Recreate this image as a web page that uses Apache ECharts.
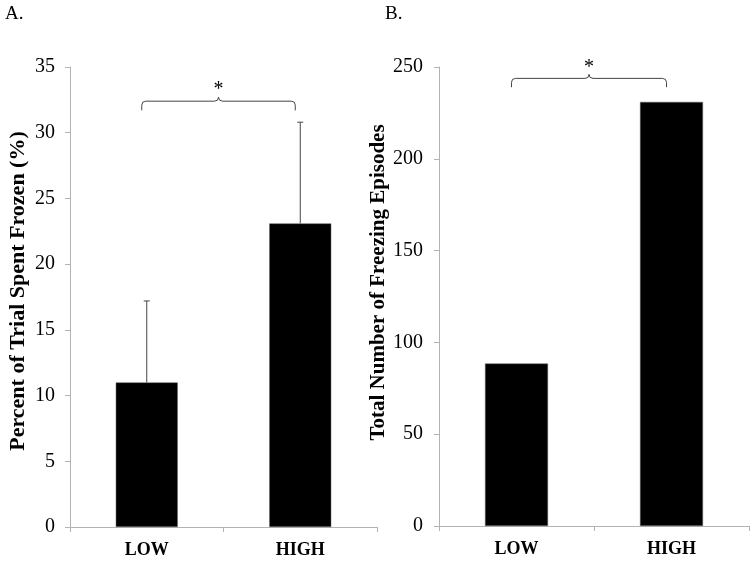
<!DOCTYPE html>
<html>
<head>
<meta charset="utf-8">
<script src="https://cdn.jsdelivr.net/npm/echarts@6/dist/echarts.min.js"></script>
<style>
html,body{margin:0;padding:0;background:#fff;}
#chart{width:754px;height:561px;}
</style>
</head>
<body>
<div id="chart"></div>
<script>
var categories = ['LOW', 'HIGH'];
var percentFrozen = [11.0, 23.1];
var percentFrozenErr = [6.2, 7.7];
var freezingEpisodes = [88.5, 231];
var ticksA = {min: 0, max: 35, interval: 5};
var ticksB = {min: 0, max: 250, interval: 50};
var bracketA = [32.4, 31.7];
var bracketB = [243.8, 239.0];

var FONT = '"Liberation Serif", "Times New Roman", serif';
var AXIS_COLOR = '#b3b3b3';

function bracketRender(params, api) {
  var top = api.value(0), end = api.value(1);
  var a = api.coord([0, top]), b = api.coord([1, top]);
  var e = api.coord([0, end]);
  var x0 = a[0] - 5, x1 = b[0] - 5, y = a[1], ye = e[1];
  var xm = (x0 + x1) / 2;
  var r = 4;
  var d = 'M' + x0 + ' ' + ye + ' L' + x0 + ' ' + (y + r) +
    ' Q' + x0 + ' ' + y + ' ' + (x0 + r) + ' ' + y +
    ' L' + (xm - r) + ' ' + y +
    ' Q' + xm + ' ' + y + ' ' + xm + ' ' + (y - r) +
    ' Q' + xm + ' ' + y + ' ' + (xm + r) + ' ' + y +
    ' L' + (x1 - r) + ' ' + y +
    ' Q' + x1 + ' ' + y + ' ' + x1 + ' ' + (y + r) +
    ' L' + x1 + ' ' + ye;
  return {
    type: 'group',
    children: [
      {type: 'path', shape: {pathData: d}, style: {fill: null, stroke: '#444', lineWidth: 1}},
      {type: 'text', style: {text: '*', x: xm, y: y - 1, align: 'center', verticalAlign: 'bottom',
        font: '20px ' + FONT, fill: '#000'}}
    ]
  };
}

function errRender(params, api) {
  var idx = api.value(0), v = api.value(1), err = api.value(2);
  var p0 = api.coord([idx, v]), p1 = api.coord([idx, v + err]);
  return {
    type: 'group',
    children: [
      {type: 'line', shape: {x1: p0[0], y1: p0[1], x2: p1[0], y2: p1[1]}, style: {stroke: '#444', lineWidth: 1}},
      {type: 'line', shape: {x1: p1[0] - 3, y1: p1[1], x2: p1[0] + 3, y2: p1[1]}, style: {stroke: '#444', lineWidth: 1}}
    ]
  };
}

function xAxis(gi) {
  return {
    type: 'category', gridIndex: gi, data: categories,
    axisLine: {lineStyle: {color: AXIS_COLOR, width: 1}},
    axisTick: {show: true, alignWithLabel: false, length: 5, lineStyle: {color: AXIS_COLOR}},
    axisLabel: {color: '#000', fontFamily: FONT, fontWeight: 'bold', fontSize: 18, margin: 14}
  };
}
function yAxis(gi, t, name, gap, nameSize, margin, shift) {
  return {
    type: 'value', gridIndex: gi, min: t.min, max: t.max, interval: t.interval,
    name: name, nameLocation: 'middle', nameGap: gap,
    nameTextStyle: {color: '#000', fontFamily: FONT, fontWeight: 'bold', fontSize: nameSize,
      padding: [0, 0, 0, shift]},
    axisLine: {show: true, lineStyle: {color: AXIS_COLOR, width: 1}},
    axisTick: {show: true, length: 5, lineStyle: {color: AXIS_COLOR}},
    axisLabel: {color: '#000', fontFamily: FONT, fontSize: 20, margin: margin},
    splitLine: {show: false}
  };
}

var chart = echarts.init(document.getElementById('chart'), null, {renderer: 'canvas'});
chart.setOption({
  animation: false,
  backgroundColor: '#fff',
  title: [
    {text: 'A.', left: 5, top: 5, padding: 0, textStyle: {fontFamily: FONT, fontWeight: 'normal', fontSize: 19, color: '#000'}},
    {text: 'B.', left: 385, top: 5, padding: 0, textStyle: {fontFamily: FONT, fontWeight: 'normal', fontSize: 19, color: '#000'}}
  ],
  grid: [
    {left: 70, right: 377, top: 67, bottom: 34},
    {left: 439, right: 5, top: 67, bottom: 35}
  ],
  xAxis: [xAxis(0), xAxis(1)],
  yAxis: [
    yAxis(0, ticksA, 'Percent of Trial Spent Frozen (%)', 41, 22, 15, 12),
    yAxis(1, ticksB, 'Total Number of Freezing Episodes', 44, 21, 16, 28)
  ],
  series: [
    {type: 'bar', xAxisIndex: 0, yAxisIndex: 0, data: percentFrozen, barWidth: 62,
      itemStyle: {color: '#000', borderColor: '#666', borderWidth: 0.5}},
    {type: 'custom', xAxisIndex: 0, yAxisIndex: 0, renderItem: errRender,
      data: categories.map(function (c, i) { return [i, percentFrozen[i], percentFrozenErr[i]]; }), z: 5},
    {type: 'custom', xAxisIndex: 0, yAxisIndex: 0, renderItem: bracketRender, data: [bracketA], z: 5},
    {type: 'bar', xAxisIndex: 1, yAxisIndex: 1, data: freezingEpisodes, barWidth: 63,
      itemStyle: {color: '#000', borderColor: '#666', borderWidth: 0.5}},
    {type: 'custom', xAxisIndex: 1, yAxisIndex: 1, renderItem: bracketRender, data: [bracketB], z: 5}
  ]
});
</script>
</body>
</html>
